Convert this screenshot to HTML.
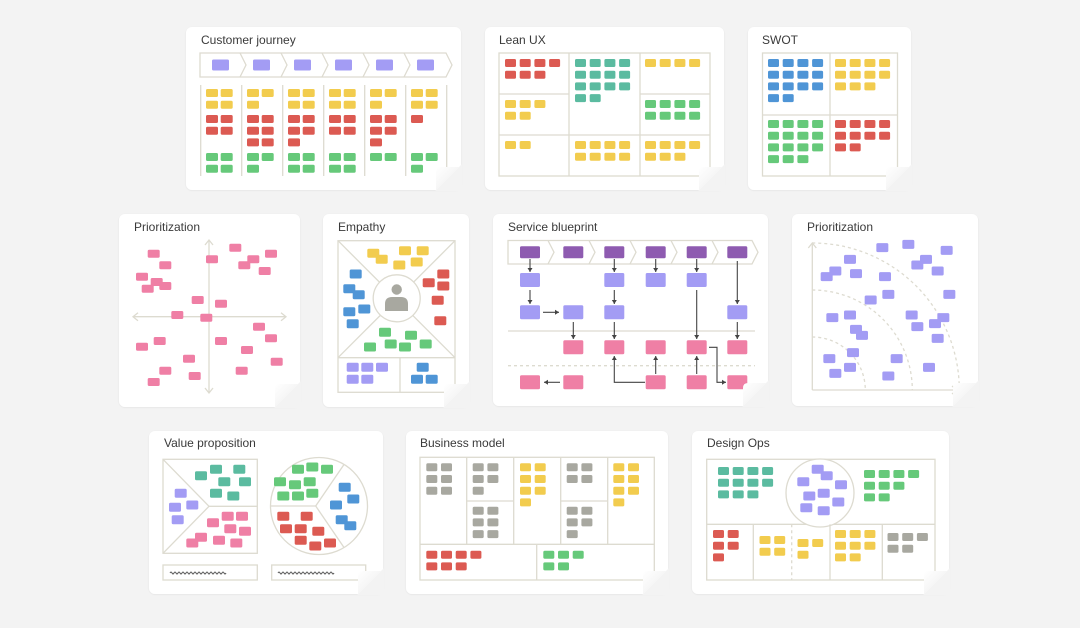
<!DOCTYPE html>
<html><head><meta charset="utf-8">
<style>
html,body{margin:0;padding:0;background:#f3f3f3;}
svg{display:block;}
text{font-family:"Liberation Sans",sans-serif;font-size:12px;fill:#3a3a3a;}
</style></head>
<body>
<svg id="s" width="1080" height="628" viewBox="0 0 1080 628" xmlns="http://www.w3.org/2000/svg">
<defs>
<linearGradient id="fold" x1="0" y1="0" x2="1" y2="1">
<stop offset="0" stop-color="#ffffff"/><stop offset="0.5" stop-color="#f6f6f6"/><stop offset="1" stop-color="#e2e2e2"/>
</linearGradient>
<filter id="sh" x="-10%" y="-10%" width="120%" height="120%"><feDropShadow dx="0" dy="0.5" stdDeviation="0.8" flood-color="#000" flood-opacity="0.08"/></filter>
</defs>
<rect width="1080" height="628" fill="#f3f3f3"/>
<g id="cards"></g>
<g id="lines" fill="none" stroke="#dddbd0" stroke-width="1.3"></g>
<g id="notes"></g>
<g id="arrows" fill="none" stroke="#444" stroke-width="1.1"></g>
<g id="curls"></g>
<g>
<text x="201" y="44">Customer journey</text>
<text x="499" y="44">Lean UX</text>
<text x="762" y="44">SWOT</text>
<text x="134" y="231">Prioritization</text>
<text x="338" y="231">Empathy</text>
<text x="508" y="231">Service blueprint</text>
<text x="807" y="231">Prioritization</text>
<text x="164" y="447">Value proposition</text>
<text x="420" y="447">Business model</text>
<text x="707" y="447">Design Ops</text>
</g>
</svg>
<script>
var NS="http://www.w3.org/2000/svg";
function el(g,t,a){var e=document.createElementNS(NS,t);for(var k in a)e.setAttribute(k,a[k]);document.getElementById(g).appendChild(e);return e;}
var C={y:"#f2cc4e",r:"#dc5a52",g:"#66c97a",t:"#5bbba0",b:"#4f95d6",p:"#a39cf4",k:"#ef7fa5",a:"#a8a8a0",d:"#8e5bb0"};
function n(x,y,c,w,h){el("notes","rect",{x:x,y:y,width:w||11,height:h||8,rx:1.5,fill:C[c]});}
function nc(cx,cy,c,w,h){w=w||12;h=h||8;n(cx-w/2,cy-h/2,c,w,h);}
function grid(x,y,rows,c,px,py,w,h){px=px||14.7;py=py||11.7;for(var i=0;i<rows.length;i++)for(var j=0;j<rows[i];j++)n(x+j*px,y+i*py,c,w,h);}
function L(x1,y1,x2,y2,dash){var a={x1:x1,y1:y1,x2:x2,y2:y2};if(dash)a["stroke-dasharray"]="3,3";el("lines","line",a);}
function R(x,y,w,h){el("lines","rect",{x:x,y:y,width:w,height:h});}
function card(x1,y1,x2,y2){el("cards","rect",{x:x1,y:y1,width:x2-x1,height:y2-y1,rx:6,fill:"#fff",filter:"url(#sh)"});
 el("curls","polygon",{points:(x2-26)+","+(y2+1)+" "+(x2+1)+","+(y2-26)+" "+(x2+1)+","+(y2+1),fill:"#f3f3f3"});
 el("curls","path",{d:"M"+(x2-25)+","+y2+" L"+(x2-25)+","+(y2-18)+" Q"+(x2-25)+","+(y2-23)+" "+(x2-20)+","+(y2-23)+" L"+(x2-2)+","+(y2-23)+" Z",fill:"url(#fold)"});}
function chev(x0,y0,x1,y1,pitch,nn){var ym=(y0+y1)/2;
 el("lines","path",{d:"M"+x0+","+y0+" L"+(x1-6)+","+y0+" L"+x1+","+ym+" L"+(x1-6)+","+y1+" L"+x0+","+y1+" Z"});
 for(var k=1;k<nn;k++){var x=x0+pitch*k-1;el("lines","polyline",{points:x+","+y0+" "+(x+6)+","+ym+" "+x+","+y1});}}
function arr(pts){var d="M"+pts[0][0]+","+pts[0][1];for(var i=1;i<pts.length;i++)d+=" L"+pts[i][0]+","+pts[i][1];el("arrows","path",{d:d});
 var p=pts[pts.length-1],q=pts[pts.length-2],dx=p[0]-q[0],dy=p[1]-q[1],l=Math.sqrt(dx*dx+dy*dy);dx/=l;dy/=l;
 el("arrows","polygon",{points:p[0]+","+p[1]+" "+(p[0]-dx*4-dy*2.5)+","+(p[1]-dy*4+dx*2.5)+" "+(p[0]-dx*4+dy*2.5)+","+(p[1]-dy*4-dx*2.5),fill:"#444",stroke:"none"});}

/* Customer journey */
card(186,27,461,190);
chev(200,53,452,77,41,6);
for(var k=0;k<6;k++){n(212+41*k,59.5,"p",17,11);}
for(var k=0;k<7;k++)L(200.7+41*k,85,200.7+41*k,176);
var cj=[[4,4,4],[3,6,3],[4,5,4],[4,4,4],[3,5,2],[4,1,3]];
for(var k=0;k<6;k++){var x=206+41*k;var c=cj[k];
 function rw(cnt){var r=[];while(cnt>0){r.push(Math.min(2,cnt));cnt-=2;}return r;}
 grid(x,89,rw(c[0]),"y",14.7,11.7,12,8);grid(x,115,rw(c[1]),"r",14.7,11.7,12,8);grid(x,153,rw(c[2]),"g",14.7,11.7,12,8);}

/* Lean UX */
card(485,27,724,190);
R(499,53,211,123);L(569,53,569,176);L(640,53,640,176);L(499,94,569,94);L(499,135,710,135);L(640,94,710,94);
grid(505,59,[4,3],"r");grid(575,59,[4,4,4,2],"t");grid(645,59,[4],"y");grid(505,100,[3,2],"y");grid(645,100,[4,4],"g");
grid(505,141,[2],"y");grid(575,141,[4,4],"y");grid(645,141,[4,3],"y");

/* SWOT */
card(748,27,911,190);
R(762.5,53,135,123);L(830,53,830,176);L(762.5,115,897.5,115);
grid(768,59,[4,4,4,2],"b");grid(835,59,[4,4,3],"y");grid(768,120,[4,4,4,3],"g");grid(835,120,[4,4,2],"r");

/* Prioritization left */
card(119,214,300,407);
L(209,240,209,393);L(133,316.7,286,316.7);
el("lines","polyline",{points:"205,245 209,240 213,245"});el("lines","polyline",{points:"205,388 209,393 213,388"});
el("lines","polyline",{points:"138,312.7 133,316.7 138,320.7"});el("lines","polyline",{points:"281,312.7 286,316.7 281,320.7"});
[[153.7,253.7],[165.3,265.3],[142,276.7],[156.7,282],[165.3,286],[147.7,288.7],[212,259.3],[235.3,247.7],[253.3,259.3],[244.3,265.3],[271,253.7],[264.7,271],[197.7,300],[221,303.7],[177.3,315],[206.3,317.7],[259,326.7],[271,338.3],[159.7,341],[142,346.7],[221,341],[247,350],[189,358.7],[276.7,361.7],[165.3,370.7],[241.7,370.7],[194.7,376],[153.7,382]].forEach(function(p){nc(p[0],p[1],"k");});

/* Empathy */
card(323,214,469,407);
R(338,240.7,117,151.6);L(338,357.7,455,357.7);L(400,357.7,400,392.3);
L(338,240.7,455,357.7);L(455,240.7,338,357.7);
el("lines","circle",{cx:396.7,cy:298.3,r:23.5,fill:"#fff"});
el("notes","circle",{cx:396.7,cy:289.5,r:5.2,fill:"#a8a8a0"});
el("notes","path",{d:"M385,311 L385,304 Q385,297 392,297 L401,297 Q408,297 408,304 L408,311 Z",fill:"#a8a8a0"});
[[373.3,253.3],[381.7,259.3],[405,250.7],[422.7,250.7],[399.3,265],[416.7,262]].forEach(function(p){nc(p[0],p[1],"y",12,9);});
[[355.7,274],[349.3,288.7],[358.7,294.7],[349.3,311.7],[364.3,309],[352.7,323.7]].forEach(function(p){nc(p[0],p[1],"b",12,9);});
[[443.3,274],[428.7,282.7],[443.3,286],[437.7,300.3],[440.3,320.7]].forEach(function(p){nc(p[0],p[1],"r",12,9);});
[[385,332.3],[411,335.3],[370,347],[390.7,344],[405,347],[425.7,344]].forEach(function(p){nc(p[0],p[1],"g",12,9);});
[[352.7,367.3],[367.3,367.3],[382,367.3],[352.7,379.3],[367.3,379.3]].forEach(function(p){nc(p[0],p[1],"p",12,9);});
[[422.7,367.3],[417,379.3],[431.7,379.3]].forEach(function(p){nc(p[0],p[1],"b",12,9);});

/* Service blueprint */
card(493,214,768,406);
chev(508,240.5,758,264,41,6);
var sx=[530,573.3,614.3,655.7,696.7,737.3];
sx.forEach(function(x){nc(x,252.3,"d",20,12);});
[0,2,3,4].forEach(function(i){nc(sx[i],280,"p",20,14);});
[0,1,2,5].forEach(function(i){nc(sx[i],312.3,"p",20,14);});
L(508,331,755,331);L(508,365.7,755,365.7,true);
[1,2,3,4,5].forEach(function(i){nc(sx[i],347.3,"k",20,14);});
[0,1,3,4,5].forEach(function(i){nc(sx[i],382.3,"k",20,14);});
arr([[530,259],[530,272]]);arr([[530,290],[530,304]]);arr([[543,312.3],[559,312.3]]);arr([[573.3,322],[573.3,339]]);
arr([[614.3,259],[614.3,272]]);arr([[614.3,290],[614.3,304]]);arr([[614.3,322],[614.3,339]]);
arr([[655.7,259],[655.7,272]]);arr([[696.7,259],[696.7,272]]);arr([[696.7,290],[696.7,339]]);
arr([[737.3,261],[737.3,304]]);arr([[737.3,322],[737.3,339]]);
arr([[560,382.3],[544,382.3]]);arr([[645,382.3],[614.3,382.3],[614.3,356]]);arr([[655.7,374],[655.7,356]]);arr([[696.7,374],[696.7,356]]);
arr([[709,347.3],[717,347.3],[717,382.3],[726,382.3]]);

/* Prioritization right */
card(792,214,978,406);
L(812.3,243,812.3,390);L(812.3,390,957,390);
el("lines","polyline",{points:"808.3,248 812.3,243 816.3,248"});el("lines","polyline",{points:"952,386 957,390 952,394"});
[53,100,147].forEach(function(r){el("lines","path",{d:"M812.3,"+(390-r)+" A"+r+","+r+" 0 0 1 "+(812.3+r)+",390","stroke-dasharray":"3,3"});});
[[307,113],[385,103],[500,121],[210,148],[438,148],[412,165],[166,183],[140,200],[228,191],[473,183],[315,200],[325,253],[272,270],[508,253],[157,323],[210,315],[395,315],[412,350],[465,341],[490,323],[228,358],[246,376],[473,385],[219,428],[148,446],[350,446],[166,490],[210,472],[447,472],[325,498]].forEach(function(p){nc(780+p[0]/3,210+p[1]/3,"p",12,9);});

/* Value proposition */
card(149,431,383,594);
R(163,459.3,94.3,94);L(163,459.3,209,506.3);L(209,506.3,257.3,506.3);L(209,506.3,163,553.3);
el("lines","circle",{cx:319,cy:506,r:48.5,fill:"#fff"});
L(270.5,506,315.7,506);L(315.7,506,344,464.5);L(315.7,506,344,547.5);
R(163,565,94.3,15);R(271.7,565,94,15);
function wave(x,y){var d="M"+x+","+y;for(var i=0;i<14;i++){d+=" q1,-2 2,0 t2,0";}el("arrows","path",{d:d,"stroke-width":1,stroke:"#555"});}
wave(170,573);wave(278,573);
[[216,469.3],[239.3,469.3],[201,475.7],[224.3,481.7],[245,481.7],[216,493.3],[233.3,496]].forEach(function(p){nc(p[0],p[1],"t",12,9);});
[[180.7,493.3],[175,507.3],[192.3,505],[177.7,519.7]].forEach(function(p){nc(p[0],p[1],"p",12,9);});
[[227.7,516.3],[242,516.3],[213,522.7],[230.3,528.7],[245,531.3],[201,537.3],[192.3,543],[219,540.3],[236.3,543]].forEach(function(p){nc(p[0],p[1],"k",12,9);});
[[298,469.3],[312.3,467],[327,469.3],[280,481.7],[295,484.7],[309.7,481.7],[283.3,496],[298,496],[312.3,493.3]].forEach(function(p){nc(p[0],p[1],"g",12,9);});
[[344.7,487.3],[353.3,499],[336,505],[341.7,519.7],[350.3,525.7]].forEach(function(p){nc(p[0],p[1],"b",12,9);});
[[283.3,516.3],[306.7,516.3],[286,528.7],[300.7,528.7],[318.3,531.3],[300.7,540.3],[315.3,546],[330,543]].forEach(function(p){nc(p[0],p[1],"r",12,9);});

/* Business model */
card(406,431,668,594);
R(420,457.3,234.3,122.7);[466.7,513.7,560.7,607.7].forEach(function(x){L(x,457.3,x,544.3);});
L(420,544.3,654.3,544.3);L(536.7,544.3,536.7,580);L(466.7,501,513.7,501);L(560.7,501,607.7,501);
grid(426.3,463.3,[2,2,2],"a");grid(472.7,463.3,[2,2,1],"a");grid(472.7,506.7,[2,2,2],"a");
grid(520,463.3,[2,2,2,1],"y");grid(566.7,463.3,[2,2],"a");grid(566.7,506.7,[2,2,1],"a");
grid(613.3,463.3,[2,2,2,1],"y");grid(426.3,550.7,[4,3],"r");grid(543.3,550.7,[3,2],"g");

/* Design Ops */
card(692,431,949,594);
R(706.7,459.3,228.3,120.7);L(706.7,524.3,935,524.3);
el("lines","circle",{cx:820,cy:493,r:34,fill:"#fff"});
L(753.3,524.3,753.3,580);L(791.7,524.3,791.7,580,true);L(830,524.3,830,580);L(882.3,524.3,882.3,580);
grid(718,467,[4,4,3],"t");grid(864,470,[4,3,2],"g");
[[817.7,469.3],[826.7,475.7],[803.3,481.7],[841,484.7],[809.3,496],[823.7,493.3],[838.3,502],[806.3,507.7],[823.7,510.7]].forEach(function(p){nc(p[0],p[1],"p",12,9);});
grid(713,530,[2,2,1],"r");grid(759.5,536,[2,2],"y");grid(797.5,539,[2,1],"y");grid(835,530,[3,3,2],"y");grid(887.5,533,[3,2],"a");
</script>
</body></html>
